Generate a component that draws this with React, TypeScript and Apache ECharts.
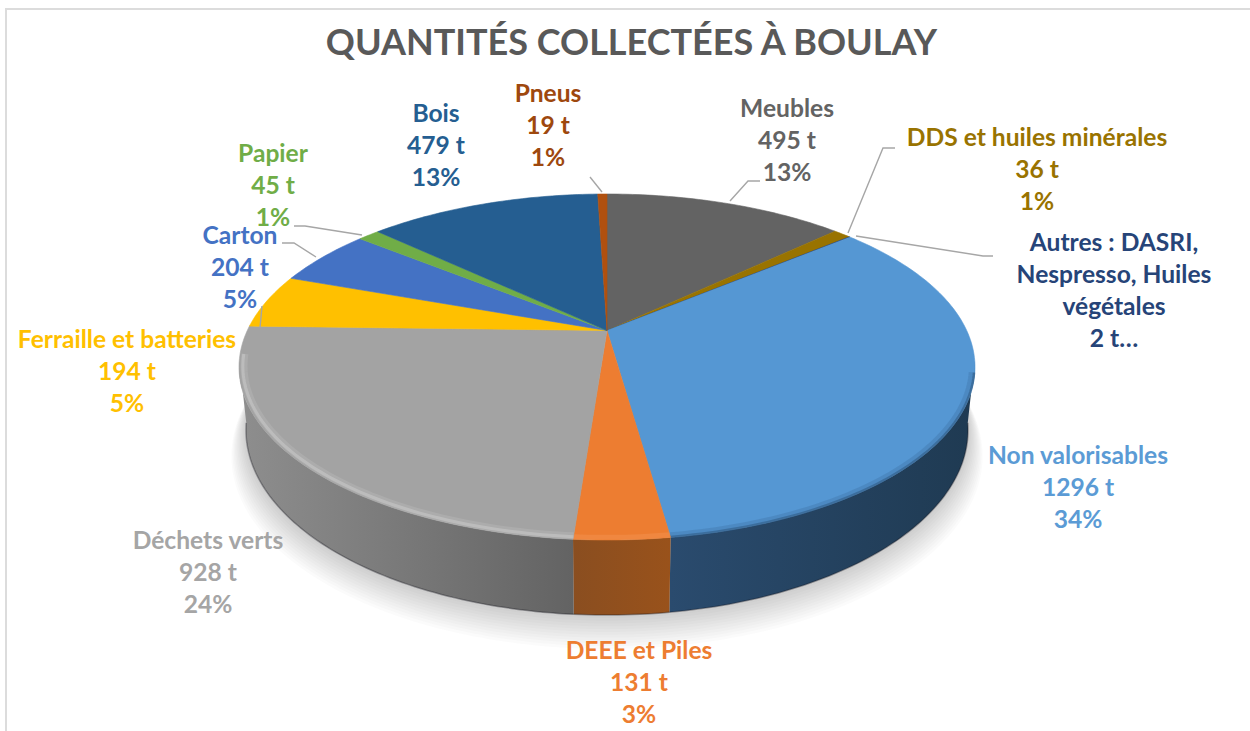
import React, { useEffect, useRef } from "react";
import * as echarts from "echarts";

const chartTitle = "QUANTITÉS COLLECTÉES À BOULAY";
const categories = ["Meubles", "DDS et huiles minérales", "Autres : DASRI,\nNespresso, Huiles\nvégétales", "Non valorisables", "DEEE et Piles", "Déchets verts", "Ferraille et batteries", "Carton", "Papier", "Bois", "Pneus"];
const tonnes = [495, 36, 2, 1296, 131, 928, 194, 204, 45, 479, 19];
const percentLabels = ["13%", "1%", "", "34%", "3%", "24%", "5%", "5%", "1%", "13%", "1%"];
const tonneLabels = ["495 t", "36 t", "2 t…", "1296 t", "131 t", "928 t", "194 t", "204 t", "45 t", "479 t", "19 t"];

const topColors = ["#636363", "#997300", "#264478", "#5597d3", "#ed7d31", "#a3a3a3", "#ffc000", "#4472c4", "#70ad47", "#255e91", "#b0500f"];
const labelColors = ["#636363", "#997300", "#264478", "#5b9bd5", "#ed7d31", "#a5a5a5", "#ffc000", "#4472c4", "#70ad47", "#255e91", "#9e480e"];
// left colour, right colour of each visible wall
const wallStops: Record<number, [string, string]> = {
  3: ["#2a4b6e", "#1f3a52"],
  4: ["#8a4e20", "#99521b"],
  5: ["#8e8e8e", "#636363"],
};
const rims: Record<number, { color: string; width: number; inset: number }[]> = {
  3: [
    { color: "rgba(45,90,135,0.22)", width: 6, inset: 0.992 },
    { color: "rgba(35,70,105,0.4)", width: 2.5, inset: 0.998 },
  ],
  4: [{ color: "rgba(255,190,140,0.16)", width: 5, inset: 0.99 }],
  5: [
    { color: "rgba(255,255,255,0.1)", width: 7, inset: 0.987 },
    { color: "rgba(255,255,255,0.2)", width: 3, inset: 0.99 },
  ],
};

const labelAnchors = [
  [787, 139], [1037, 168], [1114, 289], [1078, 486], [639, 681], [208, 571],
  [127, 370], [240, 266], [273, 184], [436, 144], [548, 124],
];
const leaders: (number[][] | null)[] = [
  [[730, 201], [748, 181], [760, 181]],
  [[848, 233], [883, 148], [895, 148]],
  [[856, 236], [983, 256], [993, 256]],
  null,
  null,
  null,
  [[262, 306], [260, 328]],
  [[316, 257], [294, 243], [282, 243]],
  [[362, 235], [305, 226], [294, 226]],
  null,
  [[602, 192], [590, 177]],
];

const PERSPECTIVE = 0.211;
const CX = 607;
const topPlane = { R: 359.7, k: 165.3, y0: 330.5 };
const basePlane = { R: 352.9, k: 176.8, y0: 391 };
const WALL_FROM = 100;
const WALL_TO = 260;
const SHADOW_LAYERS = 12;
const LABEL_FONT = "700 24.6px Lato";

const total = tonnes.reduce((a, b) => a + b, 0);
const startAngles: number[] = [];
tonnes.reduce((acc, t, i) => {
  startAngles[i] = (acc / total) * 360;
  return acc + t;
}, 0);

type Plane = { R: number; k: number; y0: number };
function project(pl: Plane, deg: number, radial = 1): number[] {
  const a = (deg * Math.PI) / 180;
  const u = Math.sin(a) * radial;
  const v = -Math.cos(a) * radial;
  const w = 1 / (1 - PERSPECTIVE * v);
  return [CX + pl.R * u * w, pl.y0 + pl.k * v * w];
}
function arc(pl: Plane, from: number, to: number, radial = 1): number[][] {
  const n = Math.max(2, Math.ceil(Math.abs(to - from)));
  const out: number[][] = [];
  for (let i = 0; i <= n; i++) out.push(project(pl, from + ((to - from) * i) / n, radial));
  return out;
}

function sliceRange(value: number, index: number) {
  const from = startAngles[index];
  return [from, from + (value / total) * 360];
}

function renderBase() {
  const children: any[] = [];
  for (let j = SHADOW_LAYERS; j >= 1; j--) {
    const pts = arc(basePlane, 85, 275, 1 + j * 0.0032).map((p) => [p[0], p[1] + j * 1.9]);
    children.push({
      type: "polygon",
      shape: { points: pts },
      style: { fill: "rgba(70,70,70,0.022)" },
    });
  }
  return { type: "group", children };
}

function renderWall(params: any, api: any) {
  const i = params.dataIndex;
  const stops = wallStops[i];
  if (!stops) return { type: "group", children: [] };
  const [a, b] = sliceRange(api.value(0), i);
  const from = Math.max(a, WALL_FROM);
  const to = Math.min(b, WALL_TO);
  const upper = arc(topPlane, from, to);
  const lower = arc(basePlane, from, to).reverse();
  const fill = new echarts.graphic.LinearGradient(0, 0, 1, 0, [
    { offset: 0, color: stops[0] },
    { offset: 1, color: stops[1] },
  ]);
  return {
    type: "group",
    children: [
      { type: "polygon", shape: { points: upper.concat(lower) }, style: { fill } },
      {
        type: "polyline",
        shape: { points: arc(basePlane, from, to) },
        style: { fill: "none", stroke: "rgba(20,20,30,0.35)", lineWidth: 1.5 },
      },
    ],
  };
}

function renderTop(params: any, api: any) {
  const i = params.dataIndex;
  const [a, b] = sliceRange(api.value(0), i);
  const apex = [CX, topPlane.y0];
  const children: any[] = [
    {
      type: "polygon",
      shape: { points: [apex, ...arc(topPlane, a, b)] },
      style: { fill: topColors[i], stroke: topColors[i], lineWidth: 0.6 },
    },
  ];
  (rims[i] || []).forEach((r) => {
    const from = Math.max(a, i === 3 ? 104 : a);
    const to = Math.min(b, i === 5 ? 262 : b);
    children.push({
      type: "polyline",
      shape: { points: arc(topPlane, from, to, r.inset) },
      style: { fill: "none", stroke: r.color, lineWidth: r.width, lineCap: "butt" },
    });
  });
  return { type: "group", children };
}

function renderLabel(params: any) {
  const i = params.dataIndex;
  const lines = [categories[i], tonneLabels[i]];
  if (percentLabels[i]) lines.push(percentLabels[i]);
  const children: any[] = [];
  const leader = leaders[i];
  if (leader) {
    children.push({
      type: "polyline",
      shape: { points: leader },
      style: { fill: "none", stroke: "#a6a6a6", lineWidth: 1.4 },
    });
  }
  children.push({
    type: "text",
    x: labelAnchors[i][0],
    y: labelAnchors[i][1],
    style: {
      text: lines.join("\n"),
      font: LABEL_FONT,
      fill: labelColors[i],
      align: "center",
      verticalAlign: "middle",
      lineHeight: 32,
    },
  });
  return { type: "group", children };
}

export default function App() {
  const ref = useRef<HTMLDivElement>(null);
  useEffect(() => {
    document.body.style.margin = "0";
    const chart = echarts.init(ref.current!, undefined, { renderer: "svg" });
    const rows = tonnes.map((t) => [t]);
    chart.setOption({
      animation: false,
      backgroundColor: "#ffffff",
      title: {
        text: chartTitle,
        left: 626.5,
        top: 18,
        textAlign: "center",
        textStyle: { fontFamily: "Lato", fontWeight: 700, fontSize: 36, color: "#595959" },
      },
      graphic: [
        {
          type: "polyline",
          shape: { points: [[6, 731], [6, 9], [1250, 9]] },
          style: { fill: "none", stroke: "#dcdcdc", lineWidth: 2 },
        },
      ],
      series: [
        { type: "custom", coordinateSystem: "none", z: 1, data: [[total]], renderItem: renderBase, silent: true },
        { type: "custom", coordinateSystem: "none", z: 2, data: rows, renderItem: renderWall, silent: true },
        { type: "custom", coordinateSystem: "none", z: 3, data: rows, renderItem: renderTop, silent: true },
        { type: "custom", coordinateSystem: "none", z: 4, data: rows, renderItem: renderLabel, silent: true },
      ],
    });
    return () => chart.dispose();
  }, []);
  return <div ref={ref} style={{ width: 1250, height: 731 }} />;
}
